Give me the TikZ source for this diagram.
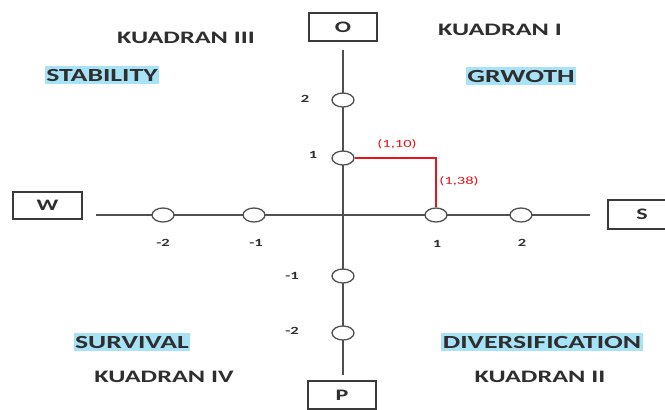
\documentclass[tikz,border=0pt]{standalone}
\usepackage{fontspec}
\setmainfont{Carlito}
\newfontfamily\widefont[FakeStretch=1.5]{Carlito}
\usetikzlibrary{shapes.geometric}
\definecolor{axisgray}{HTML}{505050}
\definecolor{boxgray}{HTML}{3A3A3A}
\definecolor{txt}{HTML}{2E2E2E}
\definecolor{hl}{HTML}{A8E2F6}
\definecolor{redline}{HTML}{E8141B}
\tikzset{
  axisline/.style={draw=axisgray, line width=1.8pt},
  tickmark/.style={ellipse, draw=axisgray, fill=white, line width=1.3pt,
    minimum width=22pt, minimum height=14pt, inner sep=0pt},
  pole/.style={draw=boxgray, line width=1.3pt, minimum width=68pt,
    minimum height=28pt, inner sep=0pt, text=txt,
    font=\widefont\bfseries\fontsize{16}{16}\selectfont},
  quad/.style={inner sep=0pt, text=txt,
    font=\widefont\bfseries\fontsize{17.5}{18}\selectfont},
  strat/.style={fill=hl, inner xsep=1.5pt, inner ysep=3pt, text=txt,
    font=\widefont\bfseries\fontsize{18.5}{19}\selectfont},
  num/.style={inner sep=0pt, text=txt,
    font=\widefont\bfseries\fontsize{11}{11}\selectfont},
  coordlbl/.style={inner sep=0pt, text=redline,
    font=\widefont\fontsize{11}{11}\selectfont},
  pathline/.style={draw=redline, line width=2.6pt}
}
\begin{document}
\begin{tikzpicture}[x=1pt, y=-1pt]
\clip (0,0) rectangle (665,410);
\fill[white] (0,0) rectangle (665,410);

% pole boxes
\node[pole] (O) at (343,27) {O};
\node[pole] (P) at (342,395) {P};
\node[pole, minimum height=27pt, minimum width=69pt] (W) at (47.5,205.5) {W};
\node[pole, minimum height=29pt] (S) at (642,214.5) {S};

% axis end points
\coordinate (ytop) at (343,50);
\coordinate (ybot) at (343,375);
\coordinate (xleft) at (96,215);
\coordinate (xright) at (590,215);

\path[axisline] (ytop) -- (ybot);
\path[axisline] (xleft) -- (xright);

% scale marks on the axes
\node[tickmark] (v2) at (343,100) {};
\node[tickmark] (v1) at (343,158) {};
\node[tickmark] (vm1) at (343,276) {};
\node[tickmark] (vm2) at (343,333) {};
\node[tickmark] (hm2) at (163,215) {};
\node[tickmark] (hm1) at (254,215) {};
\node[tickmark] (h1) at (436,215) {};
\node[tickmark] (h2) at (521,215) {};

% scale numbers
\node[num] (nv2) at (305,99) {2};
\node[num] (nv1) at (313,155) {1};
\node[num] (nvm1) at (292,276) {-1};
\node[num] (nvm2) at (292,331) {-2};
\node[num] (nhm2) at (163,243) {-2};
\node[num] (nhm1) at (256,243) {-1};
\node[num] (nh1) at (437,244) {1};
\node[num] (nh2) at (522,243) {2};

% position of the company
\path[pathline] (v1.east) -- (v1.east -| h1.north) -- (h1.north);
\node[coordlbl] (c110) at (397,144) {(1,10)};
\node[coordlbl] (c138) at (459,181) {(1,38)};

% quadrant titles
\node[quad] (q3) at (186,38) {KUADRAN III};
\node[quad] (q1) at (500,30) {KUADRAN I};
\node[quad] (q4) at (164,377) {KUADRAN IV};
\node[quad] (q2) at (540,377) {KUADRAN II};

% strategy names
\node[strat] (stab) at (102,75) {STABILITY};
\node[strat] (grow) at (521,76) {GRWOTH};
\node[strat] (surv) at (132,342) {SURVIVAL};
\node[strat] (div) at (542,342) {DIVERSIFICATION};
\end{tikzpicture}
\end{document}
